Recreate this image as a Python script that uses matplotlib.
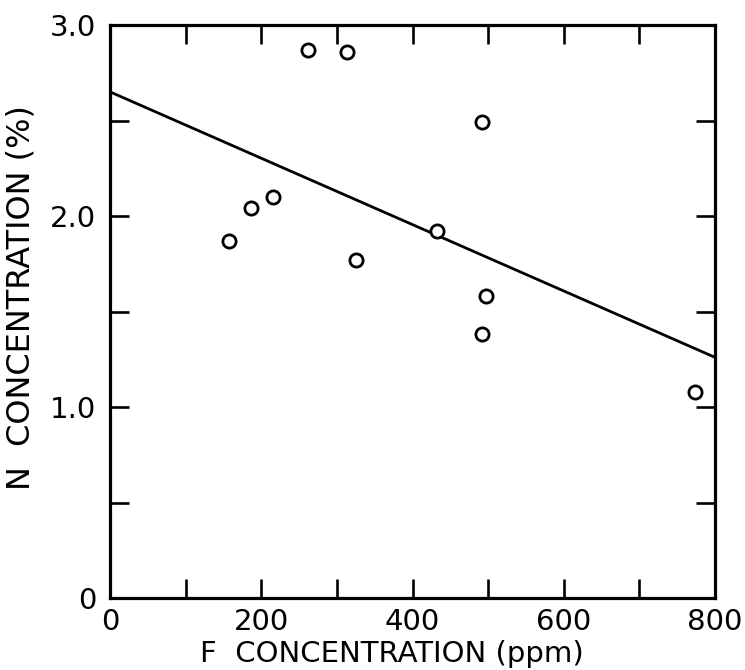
import matplotlib
matplotlib.use("Agg")
import matplotlib.pyplot as plt
from matplotlib.ticker import MultipleLocator

# values
f_ppm = [157, 186, 216, 262, 313, 325, 432, 492, 497, 492, 774]
n_pct = [1.87, 2.04, 2.10, 2.87, 2.86, 1.77, 1.92, 2.49, 1.58, 1.38, 1.08]

# regression line end points
fit_x = [0, 800]
fit_y = [2.65, 1.26]

x_ticks = [0, 200, 400, 600, 800]
x_labels = ["0", "200", "400", "600", "800"]
y_ticks = [0, 1.0, 2.0, 3.0]
y_labels = ["0", "1.0", "2.0", "3.0"]

plt.rcParams["font.family"] = ["DejaVu Sans"]

fig = plt.figure(figsize=(7.45, 6.7), dpi=100)
ax = fig.add_axes([110 / 745, 72 / 670, 605 / 745, 573 / 670])

ax.plot(fit_x, fit_y, color="black", lw=2.0, solid_capstyle="butt")
ax.plot(f_ppm, n_pct, "o", ms=9.5, mfc="white", mec="black", mew=2.0)

ax.set_xlim(0, 800)
ax.set_ylim(0, 3.0)
ax.set_xticks(x_ticks)
ax.set_xticklabels(x_labels)
ax.set_yticks(y_ticks)
ax.set_yticklabels(y_labels)
ax.xaxis.set_minor_locator(MultipleLocator(100))
ax.yaxis.set_minor_locator(MultipleLocator(0.5))

ax.tick_params(which="both", direction="in", top=True, right=True,
               length=14, width=1.9, labelsize=21, color="black")
ax.tick_params(axis="x", which="major", pad=7)
ax.tick_params(axis="y", which="major", pad=10)

for s in ax.spines.values():
    s.set_linewidth(2.3)

ax.set_xlabel("F  CONCENTRATION (ppm)", fontsize=21)
ax.set_ylabel("N  CONCENTRATION (%)", fontsize=23)
ax.xaxis.set_label_coords(0.466, -0.073)
ax.yaxis.set_label_coords(-0.122, 0.525)

fig.savefig("out.png", dpi=100)
